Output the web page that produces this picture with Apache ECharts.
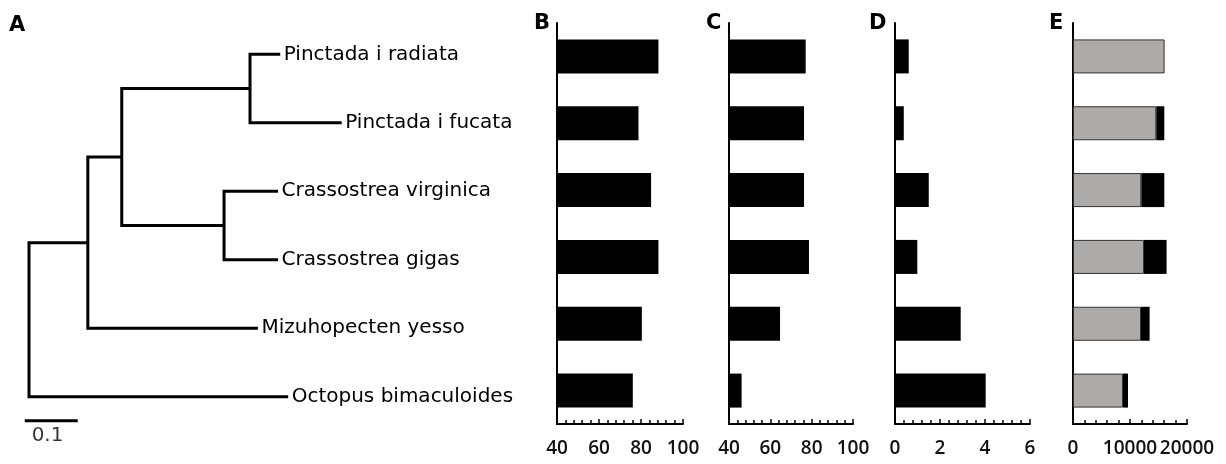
<!DOCTYPE html>
<html>
<head>
<meta charset="utf-8">
<script src="https://cdn.jsdelivr.net/npm/echarts@6/dist/echarts.min.js"></script>
<style>
  html, body { margin: 0; padding: 0; background: #fff; }
  #chart { width: 1226px; height: 464px; }
</style>
</head>
<body>
<div id="chart"></div>
<script>
// species, top to bottom
const species = ["Pinctada i radiata", "Pinctada i fucata", "Crassostrea virginica", "Crassostrea gigas", "Mizuhopecten yesso", "Octopus bimaculoides"];
// tree: each node, its parent and branch length (internal nodes first)
const treeNode = ["n1", "n2", "nPinc", "nCrass"].concat(species);
const treeParent = ["root", "n1", "n2", "n2", "nPinc", "nPinc", "nCrass", "nCrass", "n1", "root"];
const treeBranch = [0.111, 0.064, 0.242, 0.193, 0.057, 0.173, 0.102, 0.102, 0.321, 0.489];
const scaleBarLen = 0.1;
// panels
const valuesB = [88.3, 78.8, 84.8, 88.3, 80.4, 76.1];
const valuesC = [77.1, 76.3, 76.3, 78.7, 64.7, 46.1];
const valuesD = [0.61, 0.39, 1.5, 0.99, 2.92, 4.03];
const valuesEGray = [16070, 14610, 11980, 12460, 11930, 8770];
const valuesEBlack = [0, 1410, 4040, 3960, 1510, 880];

// work out node x (depth) and y (row)
const depth = { root: 0 };
const row = {};
treeNode.forEach((n, i) => { depth[n] = depth[treeParent[i]] + treeBranch[i]; });
species.forEach((s, i) => { row[s] = i; });
function kidsOf(n) {
  return treeNode.filter((m, i) => treeParent[i] === n);
}
function rowOf(n) {
  if (row[n] !== undefined) return row[n];
  const r = kidsOf(n).map(rowOf);
  row[n] = (Math.min.apply(null, r) + Math.max.apply(null, r)) / 2;
  return row[n];
}
rowOf("root");

// one bracket per internal node: first child -> vertical -> last child
const branches = [];
["root"].concat(treeNode).forEach(n => {
  const kids = kidsOf(n).sort((a, b) => row[a] - row[b]);
  if (!kids.length) return;
  const a = kids[0], b = kids[kids.length - 1];
  branches.push({ coords: [[depth[a], row[a]], [depth[n], row[a]], [depth[n], row[b]], [depth[b], row[b]]] });
  kids.slice(1, -1).forEach(k => {
    branches.push({ coords: [[depth[n], row[k]], [depth[k], row[k]]] });
  });
});
const scaleY = 5.35;
const scaleX0 = -0.008;
branches.push({ coords: [[scaleX0, scaleY], [scaleX0 + scaleBarLen, scaleY]] });

const chart = echarts.init(document.getElementById("chart"));

const tickFont = { fontFamily: "Open Sans", fontSize: 19, fontWeight: 600, color: "#111", margin: 15 };
const letterStyle = { fontFamily: "DejaVu Sans", fontSize: 21, fontWeight: "bold", color: "#000" };
const panels = [
  { left: 557, width: 126, min: 40, max: 100, interval: 20 },
  { left: 729, width: 124, min: 40, max: 100, interval: 20 },
  { left: 895, width: 135, min: 0, max: 6, interval: 2 },
  { left: 1073, width: 114, min: 0, max: 20000, interval: 10000 }
];

const grids = [{ left: 18.4, top: 54.3, width: 434.6, height: 383.5 }];
const xAxes = [{ type: "value", gridIndex: 0, min: -0.02, max: 0.8, show: false }];
const yAxes = [{ type: "value", gridIndex: 0, min: 0, max: 5.6, inverse: true, show: false }];
panels.forEach((p, i) => {
  grids.push({ left: p.left, top: 23, width: p.width, height: 401 });
  xAxes.push({
    type: "value", gridIndex: i + 1, min: p.min, max: p.max, interval: p.interval,
    axisLine: { show: true, lineStyle: { color: "#000", width: 2 } },
    axisTick: { show: true, inside: true, length: 5, lineStyle: { color: "#000", width: 1.5 } },
    minorTick: { show: true, splitNumber: 5, length: 4, lineStyle: { color: "#000", width: 1.5 } },
    splitLine: { show: false },
    axisLabel: Object.assign({ formatter: v => String(v) }, tickFont)
  });
  yAxes.push({
    type: "category", gridIndex: i + 1, data: species, inverse: true,
    axisLine: { show: true, lineStyle: { color: "#000", width: 2 } },
    axisTick: { show: false }, axisLabel: { show: false }
  });
});

function bar(idx, data, color, extra) {
  return Object.assign({
    type: "bar", xAxisIndex: idx, yAxisIndex: idx, data: data, barWidth: 34,
    itemStyle: { color: color }, silent: true
  }, extra || {});
}

chart.setOption({
  animation: false,
  title: [
    { text: "A", left: 9, top: 15, padding: 0, textStyle: letterStyle },
    { text: "B", left: 534, top: 13, padding: 0, textStyle: letterStyle },
    { text: "C", left: 706, top: 13, padding: 0, textStyle: letterStyle },
    { text: "D", left: 869, top: 13, padding: 0, textStyle: letterStyle },
    { text: "E", left: 1049, top: 13, padding: 0, textStyle: letterStyle }
  ],
  grid: grids,
  xAxis: xAxes,
  yAxis: yAxes,
  series: [
    {
      type: "lines", coordinateSystem: "cartesian2d", polyline: true, silent: true,
      xAxisIndex: 0, yAxisIndex: 0, clip: false,
      lineStyle: { color: "#000", width: 3, opacity: 1, join: "miter" },
      data: branches
    },
    {
      type: "scatter", xAxisIndex: 0, yAxisIndex: 0, symbolSize: 1, silent: true, clip: false,
      itemStyle: { color: "rgba(0,0,0,0)" },
      label: { show: true, position: "right", distance: 3, formatter: "{b}", fontFamily: "DejaVu Sans", fontSize: 20, color: "#000", opacity: 1 },
      data: species.map(s => ({ name: s, value: [depth[s], row[s]] }))
    },
    {
      type: "scatter", xAxisIndex: 0, yAxisIndex: 0, symbolSize: 1, silent: true, clip: false,
      itemStyle: { color: "rgba(0,0,0,0)" },
      label: { show: true, position: "bottom", distance: 5, formatter: "{b}", fontFamily: "DejaVu Sans", fontSize: 20, color: "#000" },
      data: [{ name: String(scaleBarLen), value: [scaleX0 + scaleBarLen / 2 - 0.007, scaleY] }]
    },
    bar(1, valuesB, "#000"),
    bar(2, valuesC, "#000"),
    bar(3, valuesD, "#000"),
    bar(4, valuesEGray, "#aeaaa8", { stack: "e", itemStyle: { color: "#aeaaa8", borderColor: "#333", borderWidth: 1 } }),
    bar(4, valuesEBlack, "#000", { stack: "e" })
  ]
});
</script>
</body>
</html>
